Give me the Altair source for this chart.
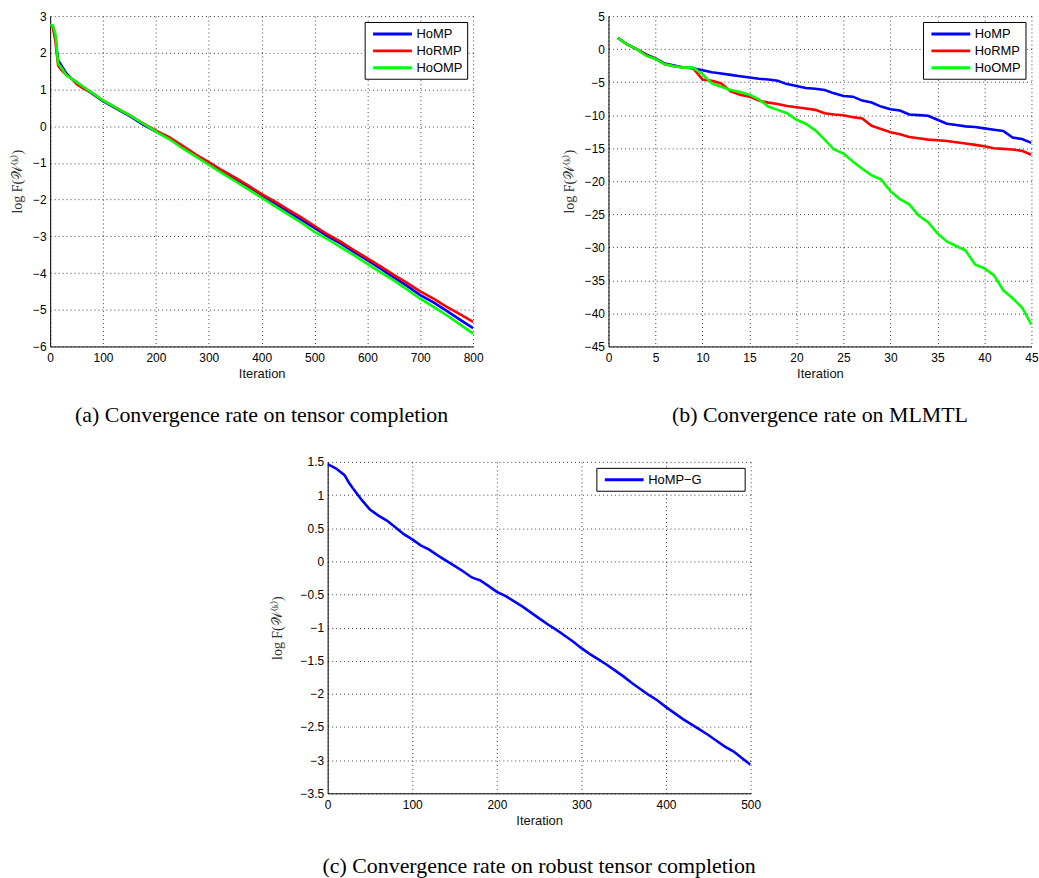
import altair as alt
import pandas as pd

# ---------------- data ----------------
A_ITER = [0, 5, 10, 15, 20, 30, 40, 50, 60, 80, 100,
          125, 150, 175, 200, 225, 250, 275, 300, 325, 350, 375, 400, 425, 450,
          475, 500, 525, 550, 575, 600, 625, 650, 675, 700, 725, 750, 775, 800]
A_HOMP = [2.75, 2.72, 2.4, 1.8, 1.68, 1.45, 1.3, 1.2, 1.08, 0.88, 0.68,
          0.48, 0.28, 0.05, -0.15, -0.33, -0.56, -0.8, -1.0, -1.22, -1.43, -1.65, -1.88, -2.1, -2.33,
          -2.55, -2.77, -3.0, -3.2, -3.43, -3.65, -3.88, -4.12, -4.35, -4.6, -4.8, -5.03, -5.27, -5.5]
A_HORMP = [2.75, 2.72, 2.3, 1.65, 1.55, 1.4, 1.3, 1.15, 1.05, 0.9, 0.7,
           0.5, 0.3, 0.08, -0.12, -0.3, -0.53, -0.77, -0.98, -1.2, -1.4, -1.62, -1.85, -2.05, -2.27,
           -2.48, -2.72, -2.95, -3.15, -3.38, -3.6, -3.82, -4.05, -4.27, -4.5, -4.7, -4.92, -5.12, -5.33]
A_HOOMP = [2.75, 2.75, 2.5, 1.7, 1.62, 1.4, 1.3, 1.2, 1.1, 0.9, 0.7,
           0.5, 0.3, 0.08, -0.15, -0.35, -0.6, -0.82, -1.05, -1.28, -1.5, -1.72, -1.95, -2.18, -2.4,
           -2.63, -2.88, -3.08, -3.3, -3.52, -3.75, -3.98, -4.2, -4.45, -4.7, -4.92, -5.15, -5.4, -5.65]

B_ITER = list(range(1, 46))
B_HOMP = [1.7, 0.7, 0, -0.8, -1.4, -2.2, -2.5, -2.8, -2.9, -3.2,
          -3.5, -3.7, -3.9, -4.1, -4.3, -4.5, -4.6, -4.8, -5.3, -5.6,
          -5.9, -6.0, -6.2, -6.7, -7.1, -7.2, -7.8, -8.1, -8.7, -9.1,
          -9.3, -9.9, -10.0, -10.1, -10.7, -11.3, -11.5, -11.7, -11.8, -12.0,
          -12.2, -12.4, -13.4, -13.6, -14.2]
B_HORMP = [1.7, 0.7, 0, -0.9, -1.5, -2.3, -2.6, -2.8, -2.9, -4.6,
           -4.8, -5.2, -6.4, -6.9, -7.2, -7.8, -8.1, -8.3, -8.6, -8.8,
           -9.0, -9.2, -9.7, -9.9, -10.0, -10.3, -10.5, -11.6, -12.1, -12.6,
           -12.9, -13.3, -13.5, -13.7, -13.8, -13.9, -14.1, -14.3, -14.5, -14.7,
           -15.0, -15.1, -15.2, -15.4, -16.0]
B_HOOMP = [1.7, 0.7, 0, -1.0, -1.5, -2.3, -2.6, -2.8, -2.8, -3.8,
           -5.2, -5.7, -6.2, -6.5, -6.9, -7.6, -8.7, -9.2, -9.7, -10.7,
           -11.3, -12.3, -13.7, -15.2, -15.8, -17.0, -18.1, -19.1, -19.7, -21.5,
           -22.7, -23.5, -25.2, -26.2, -27.9, -29.1, -29.8, -30.5, -32.6, -33.2,
           -34.2, -36.5, -37.7, -39.1, -41.7]

C_ITER = [0, 10, 20, 25, 30,
          40, 50, 60, 70, 80, 90, 100, 110, 120, 130, 140, 150, 160, 170,
          175,
          180, 190, 200, 210, 220, 230, 240, 250, 260, 270, 280, 290, 300, 310, 320, 330,
          340, 350, 360, 370, 380, 390, 400, 410, 420, 430, 440, 450, 460, 470, 480, 490, 500]
C_HOMPG = [1.465, 1.4, 1.3, 1.19, 1.1,
           0.93, 0.78, 0.69, 0.615, 0.515, 0.41, 0.33, 0.24, 0.175, 0.09, 0.01, -0.07, -0.15, -0.24,
           -0.265,
           -0.285, -0.37, -0.46, -0.52, -0.6, -0.68, -0.77, -0.86, -0.95, -1.03, -1.12, -1.21, -1.31,
           -1.4, -1.48, -1.56, -1.65, -1.74, -1.84, -1.93, -2.02, -2.1, -2.2, -2.29, -2.38, -2.46,
           -2.54, -2.62, -2.71, -2.8, -2.87, -2.97, -3.07]

NAMES3 = ["HoMP", "HoRMP", "HoOMP"]
COLORS3 = ["#0000ff", "#ff0000", "#00ff00"]
NAMES1 = ["HoMP\u2212G\u2003\u2003\u2003\u200b"]
COLORS1 = ["#0000ff"]

Y_TITLE = "log F(\U0001D4B2\u207D\u1D4F\u207E)"
CAPTIONS = ["(a) Convergence rate on tensor completion",
            "(b) Convergence rate on MLMTL",
            "(c) Convergence rate on robust tensor completion"]

SANS = "Liberation Sans"
SERIF = "Liberation Serif"


def panel(iters, series, names, colors, xdom, xvals, ydom, yvals, yfmt,
          w, h, caption, ytitle_pad=8, cap_offset=25):
    xaxis = alt.Axis(values=xvals, title="Iteration", titleFont=SANS, titleFontSize=13,
                     titleFontWeight="normal", titleColor="#111", titlePadding=4,
                     labelFont=SANS, labelFontSize=12, labelColor="#000", labelPadding=6,
                     labelFlush=False, ticks=False, domainColor="#000", domainWidth=1,
                     grid=True, gridDash=[1, 3], gridColor="#000", gridOpacity=0.75)
    yaxis = alt.Axis(values=yvals, format=yfmt, title=Y_TITLE, titleFont=SERIF,
                     titleFontSize=14, titleFontWeight="normal", titleColor="#333",
                     titlePadding=ytitle_pad, labelFont=SANS, labelFontSize=12, labelColor="#000",
                     labelPadding=4, ticks=False, domainColor="#000", domainWidth=1,
                     grid=True, gridDash=[1, 3], gridColor="#000", gridOpacity=0.75)
    leg = alt.Legend(title=None, orient="top-right", offset=6, strokeColor="#000",
                     fillColor="#fff", padding=4, cornerRadius=0,
                     symbolType="M-3,0L3,0", symbolSize=169, symbolStrokeWidth=3,
                     symbolOffset=16, labelOffset=16, labelFont=SANS, labelFontSize=13,
                     labelColor="#000", rowPadding=2, labelLimit=300)
    layers = []
    for name, vals in zip(names, series):
        df = pd.DataFrame({"it": iters, "v": vals, "s": [name] * len(iters)})
        layers.append(
            alt.Chart(df).mark_line(strokeWidth=2.6, clip=True).encode(
                x=alt.X("it:Q", scale=alt.Scale(domain=xdom, nice=False, zero=False), axis=xaxis),
                y=alt.Y("v:Q", scale=alt.Scale(domain=ydom, nice=False, zero=False), axis=yaxis),
                color=alt.Color("s:N", scale=alt.Scale(domain=names, range=colors), legend=leg),
            )
        )
    return alt.layer(*layers).properties(
        width=w, height=h,
        title=alt.TitleParams(caption, orient="bottom", font=SERIF, fontSize=22,
                              fontWeight="normal", color="#000", offset=cap_offset),
    )


pa = panel(A_ITER, [A_HOMP, A_HORMP, A_HOOMP], NAMES3, COLORS3,
           [0, 800], list(range(0, 801, 100)), [-6, 3], list(range(-6, 4)), "~g",
           425, 332, CAPTIONS[0])
pb = panel(B_ITER, [B_HOMP, B_HORMP, B_HOOMP], NAMES3, COLORS3,
           [0, 45], list(range(0, 46, 5)), [-45, 5], list(range(-45, 6, 5)), "~g",
           425, 332, CAPTIONS[1])
pc = panel(C_ITER, [C_HOMPG], NAMES1, COLORS1,
           [0, 500], list(range(0, 501, 100)), [-3.5, 1.5],
           [-3.5, -3, -2.5, -2, -1.5, -1, -0.5, 0, 0.5, 1, 1.5], "~g",
           425, 333, CAPTIONS[2], ytitle_pad=16, cap_offset=29)

top = alt.hconcat(pa, pb, spacing=78).resolve_scale(color="independent").resolve_legend(color="independent")
chart = alt.vconcat(top, pc, spacing=28, center=True).resolve_scale(
    color="independent").resolve_legend(color="independent").configure_view(
    stroke="transparent").properties(background="#ffffff", padding={"left": 10, "top": 7, "right": 0, "bottom": 0})

chart.save("out.html", embed_options={"renderer": "svg", "actions": False})
